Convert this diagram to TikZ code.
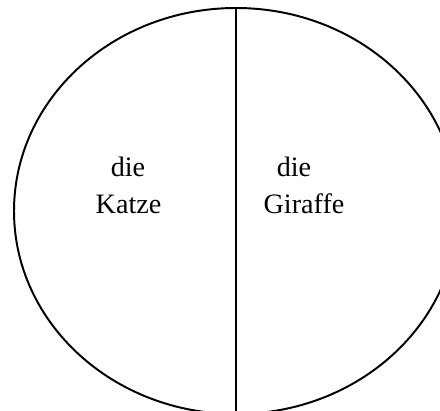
\documentclass[tikz,border=0pt]{standalone}
\usepackage{fontspec}
\setmainfont{Liberation Serif}
\usetikzlibrary{positioning}
\tikzset{word/.style = {anchor=base, inner sep=0, font=\fontsize{20}{24}\selectfont}}
\tikzset{outline/.style = {line width=1.4pt}}

\begin{document}
\begin{tikzpicture}[x=0.025cm, y=-0.025cm]
      \useasboundingbox (0,0) rectangle (440,411);
      \clip (0,0) rectangle (440,411);
      \draw[outline] (236,211) ellipse [x radius=222, y radius=203];
      \coordinate (top) at (236,8);
      \coordinate (bottom) at (236,411);
      \draw[outline] (top) -- (bottom);
      \node[word] (die1) at (128,177) {die};
      \node[word] (katze) at (128.5,214) {Katze};
      \node[word] (die2) at (294,177) {die};
      \node[word] (giraffe) at (304,214) {Giraffe};
    \end{tikzpicture}
\end{document}
